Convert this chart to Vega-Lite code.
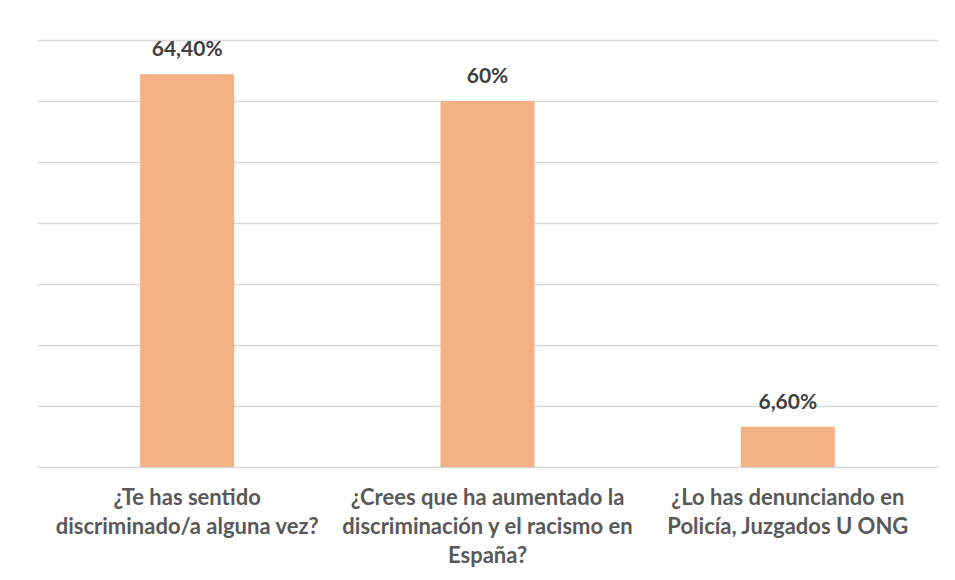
{
  "$schema": "https://vega.github.io/schema/vega-lite/v6.json",
  "width": 901,
  "height": 427,
  "autosize": "none",
  "padding": {"left": 37, "top": 40, "right": 17, "bottom": 113},
  "background": "white",
  "config": {"view": {"stroke": null}, "font": "Lato"},
  "data": {
    "values": [
      {"pregunta": "¿Te has sentido\ndiscriminado/a alguna vez?", "valor": 64.4, "etiqueta": "64,40%"},
      {"pregunta": "¿Crees que ha aumentado la\ndiscriminación y el racismo en\nEspaña?", "valor": 60, "etiqueta": "60%"},
      {"pregunta": "¿Lo has denunciando en\nPolicía, Juzgados U ONG", "valor": 6.6, "etiqueta": "6,60%"}
    ]
  },
  "encoding": {
    "x": {
      "field": "pregunta",
      "type": "nominal",
      "sort": null,
      "scale": {"paddingInner": 0, "paddingOuter": 0},
      "axis": {
        "title": null,
        "labelAngle": 0,
        "labelExpr": "split(datum.label, '\\n')",
        "labelFont": "Lato",
        "labelFontSize": 22,
        "labelFontWeight": "bold",
        "labelColor": "#595959",
        "labelLineHeight": 29,
        "labelPadding": 20,
        "labelLimit": 400,
        "domain": false,
        "ticks": false
      }
    },
    "y": {
      "field": "valor",
      "type": "quantitative",
      "scale": {"domain": [0, 70], "nice": false},
      "axis": {
        "title": null,
        "labels": false,
        "ticks": false,
        "domain": false,
        "values": [0, 10, 20, 30, 40, 50, 60, 70],
        "gridColor": "#D9D9D9",
        "gridWidth": 1.5
      }
    }
  },
  "layer": [
    {"mark": {"type": "bar", "color": "#F4B183", "width": {"band": 0.313}}},
    {
      "mark": {"type": "text", "dy": -18, "font": "Lato", "fontSize": 21, "fontWeight": "bold", "color": "#404040", "baseline": "alphabetic"},
      "encoding": {"text": {"field": "etiqueta"}}
    }
  ]
}
